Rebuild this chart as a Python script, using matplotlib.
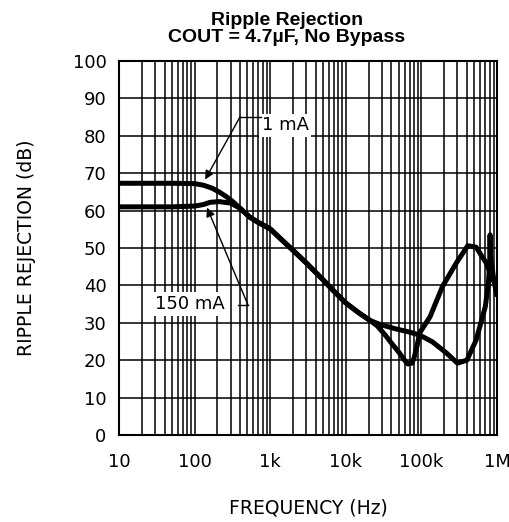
import matplotlib.pyplot as plt

# Ripple rejection vs frequency
freq_1ma = [10, 20, 50, 100, 130, 170, 210, 260, 320, 400, 540, 700, 1000,
            1400, 2000, 3000, 5000, 7000, 10000, 15000, 21000, 26000, 33000,
            40000, 50000, 60000, 66000, 75000, 80000, 88000, 95000, 130000,
            190000, 290000, 410000, 530000, 720000, 880000, 1000000]
rr_1ma = [67.3, 67.3, 67.3, 67.2, 66.8, 66.0, 65.0, 63.8, 62.4, 60.6, 58.2,
          56.8, 55.1, 52.3, 49.4, 46.0, 41.5, 38.4, 35.3, 32.6, 30.6, 29.2,
          26.8, 24.6, 22.2, 20.0, 19.0, 19.2, 20.6, 24.0, 27.3, 31.6, 39.7,
          46.0, 50.6, 50.2, 46.0, 41.5, 39.5]

freq_150ma = [10, 20, 50, 100, 130, 160, 210, 300, 400, 540, 700, 1000, 1400,
              2000, 3000, 5000, 7000, 10000, 15000, 21000, 28000, 45000,
              70000, 95000, 140000, 215000, 300000, 400000, 530000, 700000,
              770000, 800000, 810000, 820000, 900000, 1000000]
rr_150ma = [61.0, 61.0, 61.0, 61.2, 61.6, 62.2, 62.4, 62.0, 60.6, 58.2, 56.8,
            55.1, 52.3, 49.4, 46.0, 41.5, 38.4, 35.3, 32.6, 30.6, 29.6, 28.4,
            27.5, 26.7, 24.9, 21.9, 19.2, 20.0, 25.4, 34.3, 40.6, 46.0, 53.5,
            48.0, 42.0, 37.0]

x_ticks = [10, 100, 1e3, 1e4, 1e5, 1e6]
x_labels = ['10', '100', '1k', '10k', '100k', '1M']
y_ticks = list(range(0, 101, 10))

fig = plt.figure(figsize=(5.10, 5.22), dpi=100)
ax = fig.add_axes([0.2333, 0.1667, 0.7412, 0.7165])

ax.set_xscale('log')
ax.set_xlim(10, 1e6)
ax.set_ylim(0, 100)

# grid like the datasheet: every 10 dB, every 1..9 per decade
ax.set_xticks(x_ticks)
ax.set_xticklabels(x_labels)
ax.set_yticks(y_ticks)
ax.grid(True, which='major', color='black', linewidth=1.1)
ax.grid(True, which='minor', axis='x', color='black', linewidth=1.1)
ax.tick_params(which='both', length=0, labelsize=13)
ax.tick_params(axis='x', pad=13)
ax.tick_params(axis='y', pad=9)
for s in ax.spines.values():
    s.set_linewidth(1.5)

ax.plot(freq_1ma, rr_1ma, color='black', lw=3.6, solid_joinstyle='round',
        solid_capstyle='butt', zorder=3)
ax.plot(freq_150ma, rr_150ma, color='black', lw=3.6, solid_joinstyle='round',
        solid_capstyle='butt', zorder=3)

# labels with leader lines
box = dict(facecolor='white', edgecolor='none', pad=2)
arrow = dict(arrowstyle='-|>', color='black', lw=1.0, shrinkA=0, shrinkB=0,
             mutation_scale=13)

ax.text(770, 82.8, '1 mA', fontsize=13, ha='left', va='center', bbox=box,
        zorder=4)
ax.plot([398, 760], [85, 85], color='black', lw=1.0, zorder=5)
ax.annotate('', xy=(138, 68.3), xytext=(398, 85), arrowprops=arrow, zorder=5)

ax.text(30, 35.0, '150 mA', fontsize=13, ha='left', va='center', bbox=box,
        zorder=4)
ax.plot([380, 508], [34.8, 34.8], color='black', lw=1.0, zorder=5)
ax.annotate('', xy=(146, 60.8), xytext=(508, 34.8), arrowprops=arrow, zorder=5)

title_font = dict(ha='center', va='baseline', fontsize=14, fontweight='bold',
                  family='Liberation Sans')
fig.text(287 / 510, 1 - 25 / 522, 'Ripple Rejection', **title_font)
fig.text(287 / 510, 1 - 42 / 522, 'COUT = 4.7\u00b5F, No Bypass', **title_font)

ax.set_xlabel('FREQUENCY (Hz)', fontsize=13.5, labelpad=20)
ax.set_ylabel('RIPPLE REJECTION (dB)', fontsize=13.5, labelpad=26)

fig.savefig('out.png', dpi=100)
